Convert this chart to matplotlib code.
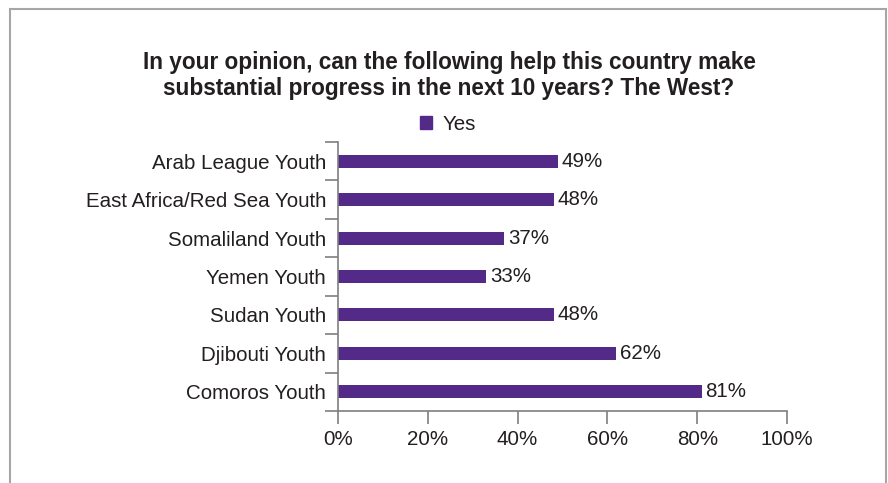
import numpy as np
import matplotlib
matplotlib.use("Agg")
from matplotlib import pyplot as plt
from matplotlib.patches import Rectangle, Patch

plt.rcParams['font.family'] = ['Liberation Sans', 'DejaVu Sans']

# data (top to bottom as shown)
groups = ["Arab League Youth", "East Africa/Red Sea Youth", "Somaliland Youth",
          "Yemen Youth", "Sudan Youth", "Djibouti Youth", "Comoros Youth"]
yes = [49, 48, 37, 33, 48, 62, 81]
xticks = [0, 20, 40, 60, 80, 100]

bar_col = "#532a87"
txt_col = "#231f20"
ax_col = "#7f7f7f"
fs = 14.8

fig = plt.figure(figsize=(8.88, 4.83), dpi=100)
ax = fig.add_axes([338/888, 1-411/483, 449/888, 269/483])

y = np.arange(len(groups))
ax.barh(y, yes, height=0.34, color=bar_col)
for yi, v in zip(y, yes):
    ax.text(v + 0.8, yi, "{}%".format(v), va='center', ha='left',
            fontsize=fs, color=txt_col)

ax.set_ylim(len(groups) - 0.5, -0.5)
ax.set_xlim(0, 100)
ax.set_yticks(y)
ax.set_yticklabels(groups)
ax.set_yticks(np.arange(len(groups) + 1) - 0.5, minor=True)
ax.tick_params(axis='y', which='major', length=0, pad=8.5, labelsize=fs, labelcolor=txt_col)
ax.tick_params(axis='y', which='minor', length=9.5, width=1.2, color=ax_col)
ax.set_xticks(xticks)
ax.set_xticklabels(["{}%".format(t) for t in xticks])
ax.tick_params(axis='x', length=9, width=1.2, color=ax_col, pad=5, labelsize=fs, labelcolor=txt_col)

for s in ['top', 'right']:
    ax.spines[s].set_visible(False)
for s in ['left', 'bottom']:
    ax.spines[s].set_color(ax_col)
    ax.spines[s].set_linewidth(1.2)

fig.text(449/888, 1-63/483, "In your opinion, can the following help this country make",
         ha='center', va='center', fontsize=16.3, fontweight='bold', color=txt_col)
fig.text(449/888, 1-89/483, "substantial progress in the next 10 years? The West?",
         ha='center', va='center', fontsize=16.3, fontweight='bold', color=txt_col)

fig.legend(handles=[Patch(color=bar_col, label="Yes")], loc='center',
           bbox_to_anchor=(448/888, 1-124/483), frameon=False, fontsize=fs,
           handlelength=0.6, handleheight=0.6, handletextpad=0.5, labelcolor=txt_col)

# outer frame
fig.patches.append(Rectangle((10/888, -0.05), 876/888, 1.05 - 9/483,
                             transform=fig.transFigure, fill=False,
                             edgecolor="#a6a6a6", linewidth=1.5))

fig.savefig("out.png", dpi=100)
